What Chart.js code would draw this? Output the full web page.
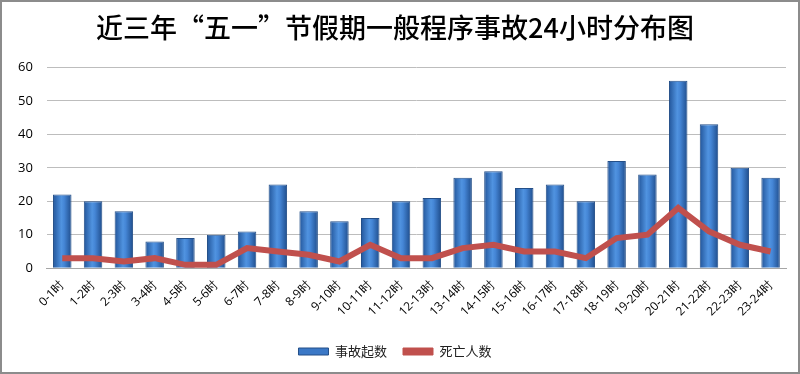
<!DOCTYPE html>
<html>
<head>
<meta charset="utf-8">
<script src="https://cdn.jsdelivr.net/npm/chart.js@4/dist/chart.umd.min.js"></script>
<style>
    html, body { margin: 0; padding: 0; background: #fff; }
    #wrap {
        width: 800px; height: 374px; box-sizing: border-box;
        border: 2px solid #8c8c8c; position: relative;
    }
</style>
</head>
<body>
<div id="wrap"><canvas id="myChart"></canvas></div>
<script>
const hours = ['0-1时', '1-2时', '2-3时', '3-4时', '4-5时', '5-6时', '6-7时', '7-8时',
    '8-9时', '9-10时', '10-11时', '11-12时', '12-13时', '13-14时', '14-15时', '15-16时',
    '16-17时', '17-18时', '18-19时', '19-20时', '20-21时', '21-22时', '22-23时', '23-24时'];
const accidents = [22, 20, 17, 8, 9, 10, 11, 25, 17, 14, 15, 20, 21, 27, 29, 24, 25, 20, 32, 28, 56, 43, 30, 27];
const deaths = [3, 3, 2, 3, 1, 1, 6, 5, 4, 2, 7, 3, 3, 6, 7, 5, 5, 3, 9, 10, 18, 11, 7, 5];

const barRatio = 0.6;

// horizontal shading on each bar, like the old office 3D style
function barFill(context) {
    const chart = context.chart;
    const xs = chart.scales.x;
    if (!chart.chartArea || !xs || context.dataIndex === undefined) {
        return '#3b78c6';
    }
    const cx = xs.getPixelForValue(context.dataIndex);
    const w = xs.width / hours.length * barRatio;
    const g = chart.ctx.createLinearGradient(cx - w / 2, 0, cx + w / 2, 0);
    g.addColorStop(0, '#22559a');
    g.addColorStop(0.45, '#5093e0');
    g.addColorStop(0.6, '#4586d6');
    g.addColorStop(1, '#1f4d8c');
    return g;
}

const ctx = document.getElementById('myChart').getContext('2d');
new Chart(ctx, {
    data: {
        labels: hours,
        datasets: [
            {
                type: 'bar',
                label: '事故起数',
                data: accidents,
                backgroundColor: barFill,
                borderColor: '#244f88',
                borderWidth: 1,
                barPercentage: barRatio,
                categoryPercentage: 1,
                order: 2,
            },
            {
                type: 'line',
                label: '死亡人数',
                data: deaths,
                borderColor: '#c0504d',
                backgroundColor: '#c0504d',
                borderWidth: 6,
                pointRadius: 0,
                tension: 0,
                order: 1,
            },
        ],
    },
    options: {
        responsive: true,
        maintainAspectRatio: false,
        animation: false,
        layout: { padding: { top: 8, left: 2, right: 12, bottom: 4 } },
        plugins: {
            title: {
                display: true,
                text: '近三年“五一”节假期一般程序事故24小时分布图',
                color: '#000',
                font: { family: '"Noto Sans CJK SC", sans-serif', size: 27, weight: 500 },
                padding: { top: 2, bottom: 23 },
            },
            legend: {
                display: true,
                position: 'bottom',
                labels: {
                    color: '#222',
                    font: { family: '"Noto Sans CJK SC", sans-serif', size: 13 },
                    boxWidth: 30,
                    boxHeight: 7,
                    padding: 16,
                    generateLabels: function (chart) {
                        return chart.data.datasets.map(function (ds, i) {
                            return {
                                text: ds.label,
                                fillStyle: i === 0 ? '#3b78c6' : '#c0504d',
                                strokeStyle: i === 0 ? '#244f88' : '#c0504d',
                                lineWidth: 1,
                                datasetIndex: i,
                                fontColor: '#222',
                            };
                        });
                    },
                },
            },
            tooltip: { enabled: false },
        },
        scales: {
            x: {
                grid: { display: false, drawTicks: false },
                border: { color: '#a6a6a6' },
                ticks: {
                    color: '#000',
                    font: { family: '"Open Sans", sans-serif', size: 12 },
                    minRotation: 45,
                    maxRotation: 45,
                    padding: 10,
                    autoSkip: false,
                },
            },
            y: {
                min: 0,
                max: 60,
                grid: { color: '#bdbdbd', drawTicks: false },
                border: { display: false },
                ticks: {
                    stepSize: 10,
                    color: '#000',
                    font: { family: '"Open Sans", sans-serif', size: 13 },
                    padding: 14,
                },
            },
        },
    },
});
</script>
</body>
</html>
